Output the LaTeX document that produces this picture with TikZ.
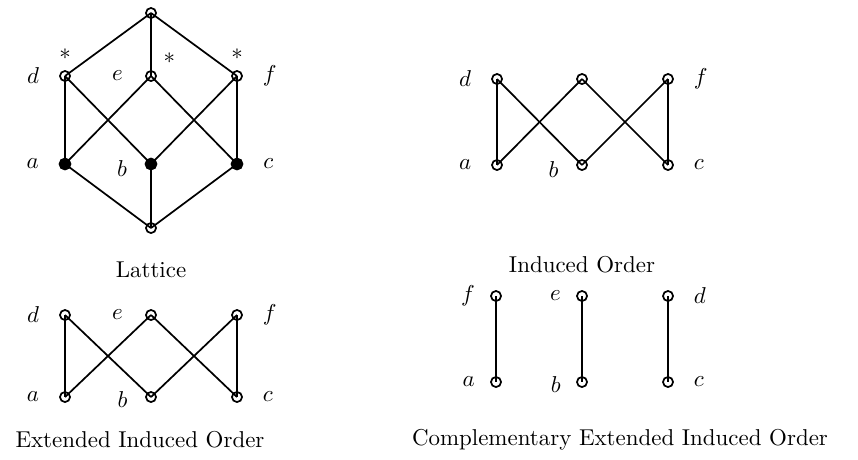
\documentclass[tikz,border=0pt]{standalone}
\usetikzlibrary{positioning}

\begin{document}
\begin{tikzpicture}[x=0.436pt, y=-0.436pt, line width=0.75pt, label distance=5pt]
\tikzstyle{elt}=[circle, draw, inner sep=0pt, minimum size=4.4pt]
\tikzstyle{full}=[elt, fill=black, minimum size=4.8pt]
\tikzstyle{caption}=[inner sep=0pt]

\useasboundingbox (0,0) rectangle (858,459);

% lattice
\node[elt] (Ltop) at (151,13) {};
\node[elt, label=left:$d$, label={[label distance=1pt]above:$*$}] (Ld) at (65,76) {};
\node[elt, label={[label distance=6pt]left:$e$}, label={[label distance=0pt]above right:$*$}] (Le) at (151,76) {};
\node[elt, label=right:$f$, label={[label distance=1pt]above:$*$}] (Lf) at (237,76) {};
\node[full, label=left:$a$] (La) at (65,164) {};
\node[full, label={[label distance=4pt, yshift=-2pt]left:$b$}] (Lb) at (151,164) {};
\node[full, label=right:$c$] (Lc) at (237,164) {};
\node[elt] (Lbot) at (151,228) {};
\node[caption] (Lcap) at (151,270) {Lattice};

\path[draw]
(Ltop.center) edge (Ld.center)
              edge (Le.center)
              edge (Lf.center)
(Ld.center) edge (La.center)
            edge (Lb.center)
(Le.center) edge (La.center)
            edge (Lc.center)
(Lf.center) edge (Lb.center)
            edge (Lc.center)
(Lbot.center) edge (La.center)
              edge (Lb.center)
              edge (Lc.center);

% induced order
\node[elt, label=left:$d$] (Id) at (497,79) {};
\node[elt] (Ie) at (582,79) {};
\node[elt, label=right:$f$] (If) at (668,79) {};
\node[elt, label=left:$a$] (Ia) at (497,165) {};
\node[elt, label={[label distance=4pt, yshift=-2pt]left:$b$}] (Ib) at (582,165) {};
\node[elt, label=right:$c$] (Ic) at (668,165) {};
\node[caption] (Icap) at (582,265) {Induced Order};

\path[draw]
(Id.center) edge (Ia.center)
            edge (Ib.center)
(Ie.center) edge (Ia.center)
            edge (Ic.center)
(If.center) edge (Ib.center)
            edge (Ic.center);

% extended induced order
\node[elt, label=left:$d$] (Xd) at (65,315) {};
\node[elt, label={[label distance=6pt]left:$e$}] (Xe) at (151,315) {};
\node[elt, label=right:$f$] (Xf) at (237,315) {};
\node[elt, label=left:$a$] (Xa) at (65,397) {};
\node[elt, label={[label distance=4pt, yshift=-1pt]left:$b$}] (Xb) at (151,397) {};
\node[elt, label=right:$c$] (Xc) at (237,397) {};
\node[caption] (Xcap) at (140,440) {Extended Induced Order};

\path[draw]
(Xd.center) edge (Xa.center)
            edge (Xb.center)
(Xe.center) edge (Xa.center)
            edge (Xc.center)
(Xf.center) edge (Xb.center)
            edge (Xc.center);

% complementary extended induced order
\node[elt, label={[label distance=3pt]left:$f$}] (Cf) at (496,296) {};
\node[elt, label={[label distance=3pt]left:$e$}] (Ce) at (582,296) {};
\node[elt, label=right:$d$] (Cd) at (668,296) {};
\node[elt, label={[label distance=3pt]left:$a$}] (Ca) at (496,382) {};
\node[elt, label={[label distance=3pt, yshift=-1pt]left:$b$}] (Cb) at (582,382) {};
\node[elt, label=right:$c$] (Cc) at (668,382) {};
\node[caption] (Ccap) at (620,440) {Complementary Extended Induced Order};

\path[draw]
(Cf.center) edge (Ca.center)
(Ce.center) edge (Cb.center)
(Cd.center) edge (Cc.center);
\end{tikzpicture}
\end{document}
